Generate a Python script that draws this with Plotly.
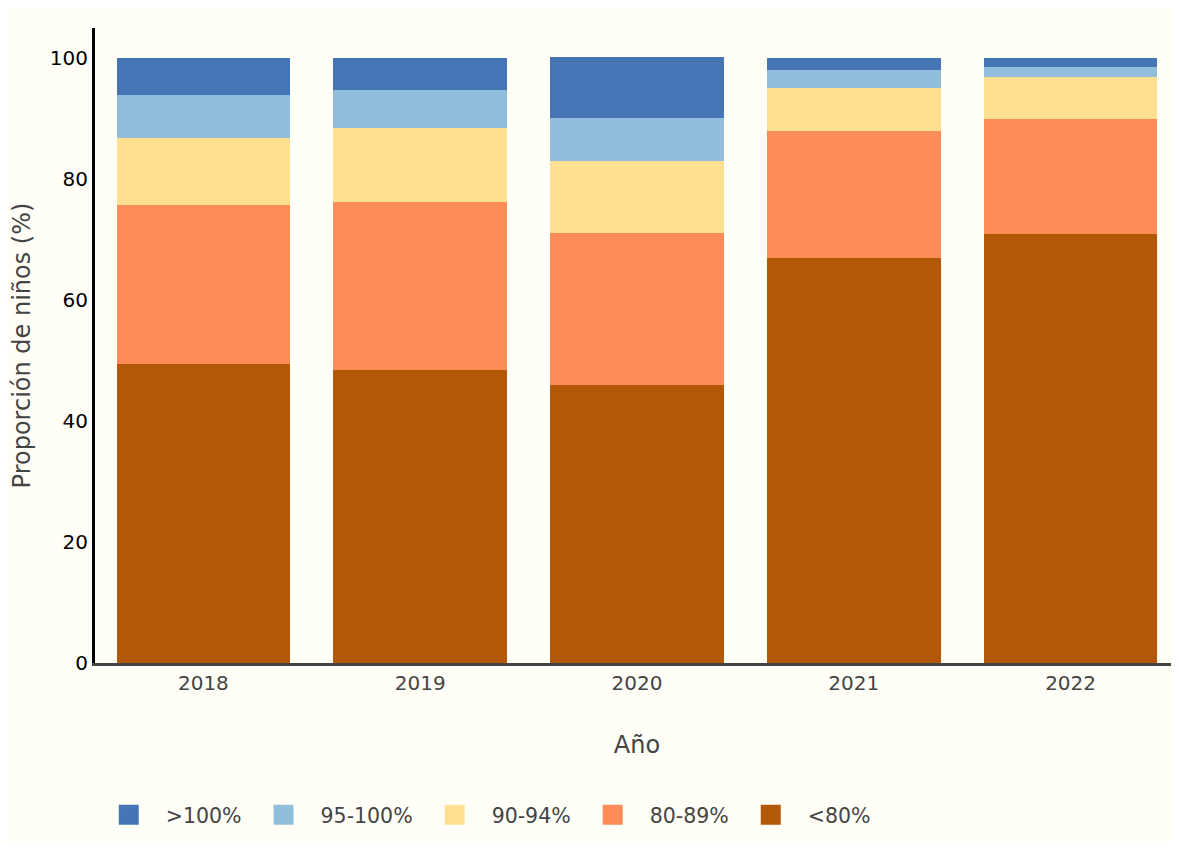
import plotly.graph_objects as go

years = ["2018", "2019", "2020", "2021", "2022"]
lt80 = [49.4, 48.4, 46.0, 66.9, 70.9]
r80_89 = [26.3, 27.8, 25.1, 21.0, 19.0]
r90_94 = [11.1, 12.2, 11.9, 7.1, 7.0]
r95_100 = [7.1, 6.3, 7.1, 3.0, 1.6]
gt100 = [6.1, 5.3, 10.1, 2.0, 1.5]

series = [
    ("<80%", lt80, "#b35806"),
    ("80-89%", r80_89, "#fc8d59"),
    ("90-94%", r90_94, "#fee090"),
    ("95-100%", r95_100, "#91bfdb"),
    (">100%", gt100, "#4575b4"),
]

fig = go.Figure()
for name, vals, color in series:
    fig.add_trace(go.Bar(x=years, y=vals, name=name, marker_color=color,
                         marker_line_width=0, showlegend=False))

# legend entries with larger square swatches
for name, vals, color in reversed(series):
    fig.add_trace(go.Scatter(x=[None], y=[None], mode="markers", name=name,
                             marker=dict(symbol="square", size=16, color=color,
                                         line=dict(color=color, width=4))))

bg = "#fffff8"
fig.update_layout(
    barmode="stack",
    bargap=0.2,
    width=1171,
    height=834,
    margin=dict(l=87, r=0, t=20, b=179),
    paper_bgcolor=bg,
    plot_bgcolor=bg,
    font=dict(family="DejaVu Sans, Verdana, sans-serif", size=20, color="#444"),
    legend=dict(orientation="h", traceorder="normal", x=-0.003, xanchor="left",
                y=-0.2394, yanchor="middle", font=dict(size=20.5),
                itemsizing="trace", itemwidth=64),
    xaxis=dict(title=dict(text="Año", standoff=43), showline=True, linecolor="#444",
               linewidth=3, ticks="", showgrid=False),
    yaxis=dict(title=dict(text="Proporción de niños (%)"), range=[0, 105],
               tickvals=[0, 20, 40, 60, 80, 100], showline=True, linecolor="black",
               linewidth=3, ticks="", showgrid=False, zeroline=False,
               tickfont=dict(color="black")),
)

fig.write_html("out.html")
